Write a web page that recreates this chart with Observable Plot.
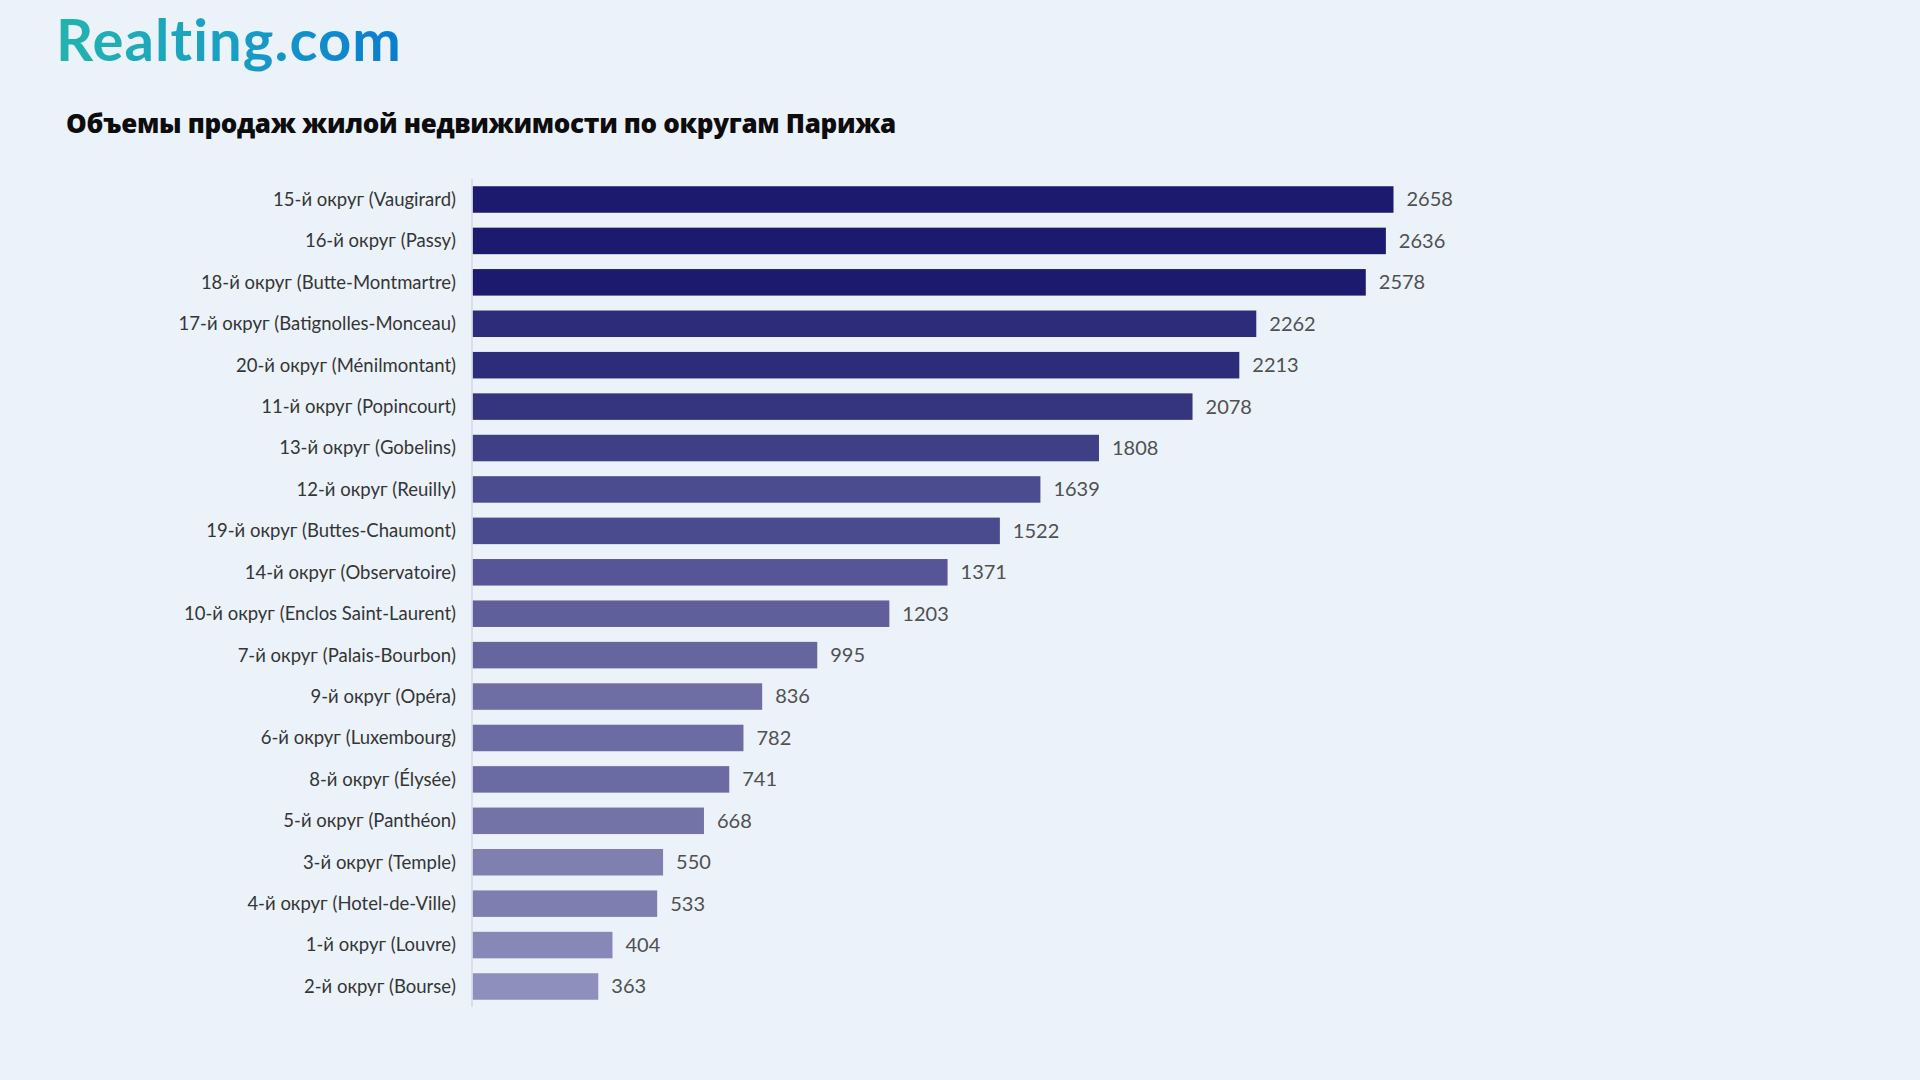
<!DOCTYPE html>
<html>
<head>
<meta charset="utf-8">
<script src="https://cdn.jsdelivr.net/npm/d3@7"></script>
<script src="https://cdn.jsdelivr.net/npm/@observablehq/plot@0.6"></script>
<style>
  html, body { margin: 0; padding: 0; background: #ebf2fa; width: 1920px; height: 1080px; overflow: hidden; }
  #header { position: relative; height: 160px; }
  #logo {
    position: absolute; left: 56px; top: 4px;
    font-family: Lato, "Noto Sans", sans-serif; font-weight: 700; font-size: 58px;
    background: linear-gradient(90deg, #23b3ae 0%, #1a9fc4 50%, #0a7bd2 100%);
    -webkit-background-clip: text; background-clip: text; color: transparent;
    white-space: nowrap; font-variant-ligatures: none;
  }
  #title {
    position: absolute; left: 66px; top: 105px;
    font-family: "Open Sans", "Noto Sans", sans-serif; font-weight: 800; font-size: 26px;
    color: #0d0d0d; white-space: nowrap;
  }
  #chart svg { display: block; }
</style>
</head>
<body>
<div id="header">
  <div id="logo">Realting.com</div>
  <div id="title">Объемы продаж жилой недвижимости по округам Парижа</div>
</div>
<div id="chart"></div>
<script>
const districts = [
  "15-й округ (Vaugirard)",
  "16-й округ (Passy)",
  "18-й округ (Butte-Montmartre)",
  "17-й округ (Batignolles-Monceau)",
  "20-й округ (Ménilmontant)",
  "11-й округ (Popincourt)",
  "13-й округ (Gobelins)",
  "12-й округ (Reuilly)",
  "19-й округ (Buttes-Chaumont)",
  "14-й округ (Observatoire)",
  "10-й округ (Enclos Saint-Laurent)",
  "7-й округ (Palais-Bourbon)",
  "9-й округ (Opéra)",
  "6-й округ (Luxembourg)",
  "8-й округ (Élysée)",
  "5-й округ (Panthéon)",
  "3-й округ (Temple)",
  "4-й округ (Hotel-de-Ville)",
  "1-й округ (Louvre)",
  "2-й округ (Bourse)"
];
const values = [2658, 2636, 2578, 2262, 2213, 2078, 1808, 1639, 1522, 1371, 1203, 995, 836, 782, 741, 668, 550, 533, 404, 363];

const palette = [
  "#1b1a6e", "#1b1a6e", "#1b1a6e", "#2c2c7b", "#2c2c7b", "#34347f", "#3f3f86",
  "#4b4b8f", "#4a4a8e", "#555597", "#5f5f9b", "#66669f", "#6e6ea5", "#6c6ca4",
  "#6b6ba3", "#7373a8", "#8080b0", "#7f7faf", "#8888b8", "#8f8fbe"
];

// fit header texts to the widths seen in the reference
function fitWidth(id, target) {
  const el = document.getElementById(id);
  const n = el.textContent.length;
  const w = el.getBoundingClientRect().width;
  el.style.letterSpacing = ((target - w) / n) + "px";
}
fitWidth("logo", 346);
fitWidth("title", 830);

const data = districts.map((d, i) => ({district: d, value: values[i]}));
const font = "Lato, 'Noto Sans', sans-serif";

const chart = Plot.plot({
  width: 1920,
  height: 920,
  marginTop: 19,
  marginBottom: 73,
  marginLeft: 472.5,
  marginRight: 61.5,
  style: {background: "transparent", fontFamily: font, overflow: "visible"},
  x: {domain: [0, 4000], axis: null},
  y: {domain: districts, paddingInner: 0.36, paddingOuter: 0.175, round: false, axis: null},
  color: {domain: districts, range: palette},
  marks: [
    Plot.barX(data, {x: "value", y: "district", fill: "district"}),
    Plot.ruleX([0], {stroke: "#d2d9e3", strokeWidth: 1.5, dx: -1}),
    Plot.text(data, {x: "value", y: "district", text: d => String(d.value), textAnchor: "start", dx: 12.5, fill: "#505050", fontSize: 20, fontFamily: font}),
    Plot.axisY({tickSize: 0, tickPadding: 17, fontSize: 18.5, label: null, color: "#353535", fontFamily: font})
  ]
});
document.getElementById("chart").appendChild(chart);
</script>
</body>
</html>
